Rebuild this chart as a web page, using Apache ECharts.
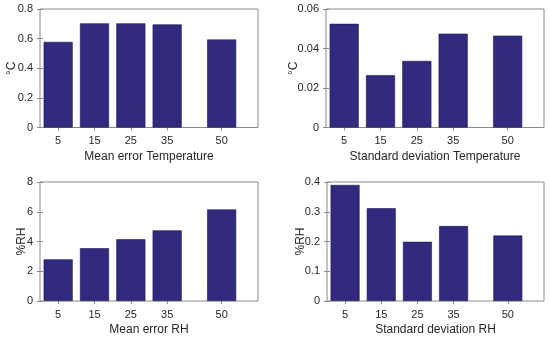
<!DOCTYPE html>
<html>
<head>
<meta charset="utf-8">
<script src="https://cdn.jsdelivr.net/npm/echarts@6/dist/echarts.min.js"></script>
<style>html,body{margin:0;padding:0;background:#fff}#c{width:550px;height:340px}</style>
</head>
<body>
<div id="c"></div>
<script>
const xCats = [5, 15, 25, 35, 50];
const meanErrTemp = [0.578, 0.703, 0.703, 0.696, 0.594];
const sdTemp = [0.0525, 0.0265, 0.0337, 0.0475, 0.0465];
const meanErrRH = [2.8, 3.55, 4.15, 4.75, 6.15];
const sdRH = [0.39, 0.312, 0.199, 0.252, 0.22];
const xTitles = ['Mean error Temperature', 'Standard deviation Temperature', 'Mean error RH', 'Standard deviation RH'];
const yTitles = ['°C', '°C', '%RH', '%RH'];
const yMax = [0.8, 0.06, 8, 0.4];
const yStep = [0.2, 0.02, 2, 0.1];

const seriesData = [meanErrTemp, sdTemp, meanErrRH, sdRH];
const grids = [
  {left: 40, top: 9, width: 218, height: 118.5},
  {left: 326, top: 9, width: 218, height: 118.5},
  {left: 40, top: 182, width: 218, height: 119},
  {left: 327, top: 182, width: 217, height: 119}
];
const yNameGap = [22, 26, 12, 20];
const txt = '#262626', ax = '#8a8a8a';
const font = 'Liberation Sans, Arial, Helvetica, sans-serif';

const option = {
  animation: false,
  backgroundColor: '#fff',
  grid: grids.map(g => Object.assign({show: true, borderColor: ax, borderWidth: 1, backgroundColor: 'transparent'}, g)),
  xAxis: [], yAxis: [], series: []
};
grids.forEach((g, i) => {
  const tick = {show: true, inside: true, length: 3, customValues: xCats, lineStyle: {color: ax, width: 1}};
  option.xAxis.push({
    gridIndex: i, type: 'value', min: 0, max: 60, position: 'bottom',
    axisLine: {show: false}, splitLine: {show: false}, axisTick: tick,
    axisLabel: {customValues: xCats, fontSize: 11, color: txt, margin: 8, fontFamily: font},
    name: xTitles[i], nameLocation: 'middle', nameGap: 23, nameMoveOverlap: false,
    nameTextStyle: {fontSize: 12, color: txt, fontFamily: font}
  });
  option.xAxis.push({
    gridIndex: i, type: 'value', min: 0, max: 60, position: 'top',
    axisLine: {show: false}, splitLine: {show: false}, axisTick: tick,
    axisLabel: {show: false}
  });
  option.yAxis.push({
    gridIndex: i, type: 'value', min: 0, max: yMax[i], interval: yStep[i], position: 'left',
    axisLine: {show: false}, splitLine: {show: false},
    axisTick: {show: true, inside: true, length: 3, lineStyle: {color: ax, width: 1}},
    axisLabel: {fontSize: 11, color: txt, margin: 7, fontFamily: font},
    name: yTitles[i], nameLocation: 'middle', nameGap: yNameGap[i], nameRotate: 90, nameMoveOverlap: false,
    nameTextStyle: {fontSize: 12, color: txt, fontFamily: font}
  });
  option.yAxis.push({
    gridIndex: i, type: 'value', min: 0, max: yMax[i], interval: yStep[i], position: 'right',
    axisLine: {show: false}, splitLine: {show: false},
    axisTick: {show: true, inside: true, length: 3, lineStyle: {color: ax, width: 1}},
    axisLabel: {show: false}
  });
  option.series.push({
    type: 'bar', xAxisIndex: 2 * i, yAxisIndex: 2 * i,
    barWidth: 8 / 60 * g.width,
    itemStyle: {color: '#312a7f', borderColor: '#1c1850', borderWidth: 0.6},
    data: xCats.map((x, j) => [x, seriesData[i][j]])
  });
});
const chart = echarts.init(document.getElementById('c'), null, {renderer: 'canvas'});
chart.setOption(option);
</script>
</body>
</html>
